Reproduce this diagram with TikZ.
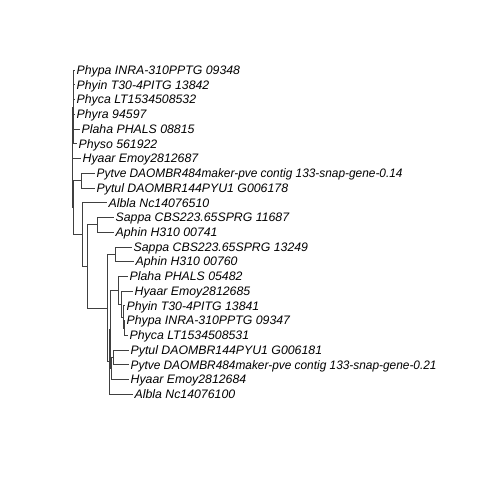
\documentclass[tikz,border=0pt]{standalone}
\usepackage{fontspec}
\setmainfont{Liberation Sans}
\begin{document}
\begin{tikzpicture}[x=1pt,y=-1pt,
  br/.style={black!75, line width=0.6pt},
  lab/.style={anchor=base west, inner sep=0pt, font=\fontsize{12.3}{14}\selectfont\itshape}]
\useasboundingbox (0,0) rectangle (480,480);
% tips
\coordinate (t1) at (75,70);
\coordinate (t2) at (75,84.7);
\coordinate (t3) at (75,99.5);
\coordinate (t4) at (75,114.2);
\coordinate (t5) at (80,128.9);
\coordinate (t6) at (77,143.7);
\coordinate (t7) at (81,158.4);
\coordinate (t8) at (95,173.1);
\coordinate (t9) at (95,187.8);
\coordinate (t10) at (107,202.6);
\coordinate (t11) at (114,217.3);
\coordinate (t12) at (114,232.0);
\coordinate (t13) at (132,246.8);
\coordinate (t14) at (134,261.5);
\coordinate (t15) at (128,276.2);
\coordinate (t16) at (133,291.0);
\coordinate (t17) at (125,305.7);
\coordinate (t18) at (125,320.4);
\coordinate (t19) at (128,335.1);
\coordinate (t20) at (129,349.9);
\coordinate (t21) at (129,364.6);
\coordinate (t22) at (129,379.3);
\coordinate (t23) at (133,394);
% labels
\node[lab] (l1) at ([shift={(1.5,4.4)}]t1) {Phypa INRA-310PPTG 09348};
\node[lab] (l2) at ([shift={(1.5,4.4)}]t2) {Phyin T30-4PITG 13842};
\node[lab] (l3) at ([shift={(1.5,4.4)}]t3) {Phyca LT1534508532};
\node[lab] (l4) at ([shift={(1.5,4.4)}]t4) {Phyra 94597};
\node[lab] (l5) at ([shift={(1.5,4.4)}]t5) {Plaha PHALS 08815};
\node[lab] (l6) at ([shift={(1.5,4.4)}]t6) {Physo 561922};
\node[lab] (l7) at ([shift={(1.5,4.4)}]t7) {Hyaar Emoy2812687};
\node[lab] (l8) at ([shift={(1.5,4.4)}]t8) {\scalebox{0.965}[1]{Pytve DAOMBR484maker-pve contig 133-snap-gene-0.14}};
\node[lab] (l9) at ([shift={(1.5,4.4)}]t9) {Pytul DAOMBR144PYU1 G006178};
\node[lab] (l10) at ([shift={(1.5,4.4)}]t10) {Albla Nc14076510};
\node[lab] (l11) at ([shift={(1.5,4.4)}]t11) {Sappa CBS223.65SPRG 11687};
\node[lab] (l12) at ([shift={(1.5,4.4)}]t12) {Aphin H310 00741};
\node[lab] (l13) at ([shift={(1.5,4.4)}]t13) {Sappa CBS223.65SPRG 13249};
\node[lab] (l14) at ([shift={(1.5,4.4)}]t14) {Aphin H310 00760};
\node[lab] (l15) at ([shift={(1.5,4.4)}]t15) {Plaha PHALS 05482};
\node[lab] (l16) at ([shift={(1.5,4.4)}]t16) {Hyaar Emoy2812685};
\node[lab] (l17) at ([shift={(1.5,4.4)}]t17) {Phyin T30-4PITG 13841};
\node[lab] (l18) at ([shift={(1.5,4.4)}]t18) {Phypa INRA-310PPTG 09347};
\node[lab] (l19) at ([shift={(1.5,4.4)}]t19) {Phyca LT1534508531};
\node[lab] (l20) at ([shift={(1.5,4.4)}]t20) {Pytul DAOMBR144PYU1 G006181};
\node[lab] (l21) at ([shift={(1.5,4.4)}]t21) {\scalebox{0.965}[1]{Pytve DAOMBR484maker-pve contig 133-snap-gene-0.21}};
\node[lab] (l22) at ([shift={(1.5,4.4)}]t22) {Hyaar Emoy2812684};
\node[lab] (l23) at ([shift={(1.5,4.4)}]t23) {Albla Nc14076100};
% internal nodes
\coordinate (A) at (73.5,106.9);
\coordinate (C) at (81,180.5);
\coordinate (Z) at (72.8,207.5);
\coordinate (N3) at (72,157.2);
\coordinate (N2) at (82,234.4);
\coordinate (N1) at (87,266.2);
\coordinate (S1) at (97,224.7);
\coordinate (G2) at (107,307.8);
\coordinate (S2) at (115,254.1);
\coordinate (X) at (109,361.6);
\coordinate (PQ) at (110.5,329.2);
\coordinate (P) at (118,290.1);
\coordinate (P2) at (121,303.9);
\coordinate (P3) at (123,316.8);
\coordinate (P4) at (124,327.8);
\coordinate (Q) at (111.5,368.3);
\coordinate (Q2) at (113,357.3);
% edges
\foreach \c in {t1,t2,t3,t4,t5,t6} \draw[br] (A) |- (\c);
\foreach \c in {A,t7,Z} \draw[br] (N3) |- (\c);
\foreach \c in {C,N2} \draw[br] (Z) |- (\c);
\foreach \c in {t8,t9} \draw[br] (C) |- (\c);
\foreach \c in {t10,N1} \draw[br] (N2) |- (\c);
\foreach \c in {S1,G2} \draw[br] (N1) |- (\c);
\foreach \c in {t11,t12} \draw[br] (S1) |- (\c);
\foreach \c in {S2,X} \draw[br] (G2) |- (\c);
\foreach \c in {t13,t14} \draw[br] (S2) |- (\c);
\foreach \c in {PQ,t23} \draw[br] (X) |- (\c);
\foreach \c in {P,Q} \draw[br] (PQ) |- (\c);
\foreach \c in {t15,P2} \draw[br] (P) |- (\c);
\foreach \c in {t16,P3} \draw[br] (P2) |- (\c);
\foreach \c in {t17,P4} \draw[br] (P3) |- (\c);
\foreach \c in {t18,t19} \draw[br] (P4) |- (\c);
\foreach \c in {Q2,t22} \draw[br] (Q) |- (\c);
\foreach \c in {t20,t21} \draw[br] (Q2) |- (\c);
\end{tikzpicture}
\end{document}
